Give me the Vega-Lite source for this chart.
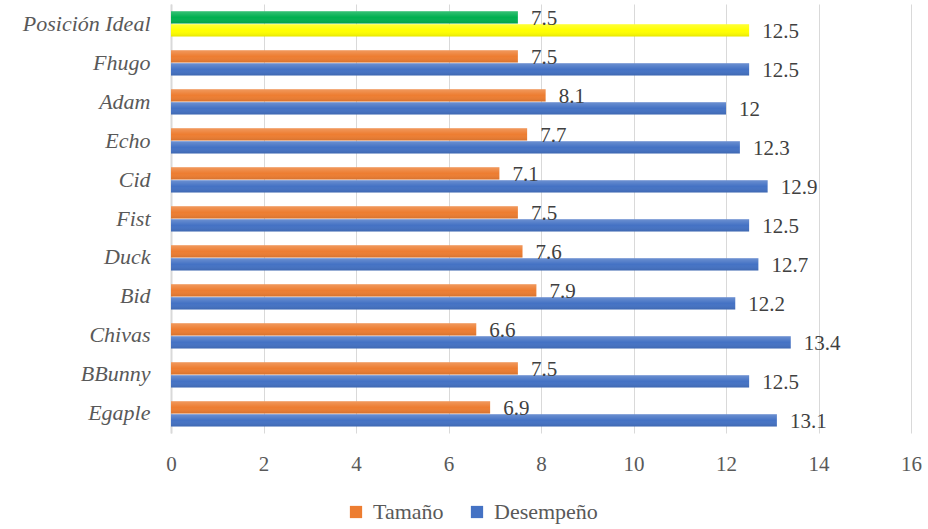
{
  "$schema": "https://vega.github.io/schema/vega-lite/v6.json",
  "width": 740,
  "height": 429,
  "autosize": {"type": "none"},
  "padding": {"left": 171, "top": 4, "right": 17, "bottom": 96},
  "background": "white",
  "config": {
    "view": {"stroke": null},
    "font": "'Liberation Serif', 'Times New Roman', serif"
  },
  "data": {
    "values": [
      {"nombre": "Posición Ideal", "serie": "Ideal Tamaño", "pos": "a", "valor": 7.5},
      {"nombre": "Posición Ideal", "serie": "Ideal Desempeño", "pos": "b", "valor": 12.5},
      {"nombre": "Fhugo", "serie": "Tamaño", "pos": "a", "valor": 7.5},
      {"nombre": "Fhugo", "serie": "Desempeño", "pos": "b", "valor": 12.5},
      {"nombre": "Adam", "serie": "Tamaño", "pos": "a", "valor": 8.1},
      {"nombre": "Adam", "serie": "Desempeño", "pos": "b", "valor": 12},
      {"nombre": "Echo", "serie": "Tamaño", "pos": "a", "valor": 7.7},
      {"nombre": "Echo", "serie": "Desempeño", "pos": "b", "valor": 12.3},
      {"nombre": "Cid", "serie": "Tamaño", "pos": "a", "valor": 7.1},
      {"nombre": "Cid", "serie": "Desempeño", "pos": "b", "valor": 12.9},
      {"nombre": "Fist", "serie": "Tamaño", "pos": "a", "valor": 7.5},
      {"nombre": "Fist", "serie": "Desempeño", "pos": "b", "valor": 12.5},
      {"nombre": "Duck", "serie": "Tamaño", "pos": "a", "valor": 7.6},
      {"nombre": "Duck", "serie": "Desempeño", "pos": "b", "valor": 12.7},
      {"nombre": "Bid", "serie": "Tamaño", "pos": "a", "valor": 7.9},
      {"nombre": "Bid", "serie": "Desempeño", "pos": "b", "valor": 12.2},
      {"nombre": "Chivas", "serie": "Tamaño", "pos": "a", "valor": 6.6},
      {"nombre": "Chivas", "serie": "Desempeño", "pos": "b", "valor": 13.4},
      {"nombre": "BBunny", "serie": "Tamaño", "pos": "a", "valor": 7.5},
      {"nombre": "BBunny", "serie": "Desempeño", "pos": "b", "valor": 12.5},
      {"nombre": "Egaple", "serie": "Tamaño", "pos": "a", "valor": 6.9},
      {"nombre": "Egaple", "serie": "Desempeño", "pos": "b", "valor": 13.1}
    ]
  },
  "encoding": {
    "y": {
      "field": "nombre",
      "type": "nominal",
      "sort": null,
      "title": null,
      "scale": {"paddingInner": 0.333, "paddingOuter": 0.1667},
      "axis": {
        "ticks": false,
        "domain": true,
        "domainColor": "#D9D9D9",
        "domainWidth": 2,
        "labelFont": "'Liberation Serif', 'Times New Roman', serif",
        "labelFontStyle": "italic",
        "labelFontSize": 22,
        "labelColor": "#595959",
        "labelPadding": 21
      }
    },
    "yOffset": {"field": "pos", "type": "nominal", "sort": ["a", "b"], "scale": {"paddingInner": 0, "paddingOuter": 0}},
    "x": {
      "field": "valor",
      "type": "quantitative",
      "title": null,
      "scale": {"domain": [0, 16], "nice": false},
      "axis": {
        "values": [0, 2, 4, 6, 8, 10, 12, 14, 16],
        "domain": false,
        "ticks": false,
        "grid": true,
        "gridColor": "#D9D9D9",
        "gridWidth": 1,
        "labelFlush": false,
        "labelFont": "'Liberation Serif', 'Times New Roman', serif",
        "labelFontSize": 21,
        "labelColor": "#595959",
        "labelPadding": 20
      }
    }
  },
  "layer": [
    {
      "mark": {"type": "bar", "height": {"band": 0.95}},
      "encoding": {
        "color": {
          "field": "serie",
          "type": "nominal",
          "scale": {
            "domain": ["Tamaño", "Desempeño", "Ideal Tamaño", "Ideal Desempeño"],
            "range": ["#ED7D31", "#4472C4", "#00B050", "#FFFF00"]
          },
          "legend": {
            "values": ["Tamaño", "Desempeño"],
            "title": null,
            "orient": "none",
            "direction": "horizontal",
            "legendX": 174,
            "legendY": 497,
            "symbolType": "square",
            "symbolSize": 150,
            "symbolStrokeWidth": 0,
            "labelFont": "'Liberation Serif', 'Times New Roman', serif",
            "labelFontSize": 22,
            "labelColor": "#595959",
            "labelOffset": 6,
            "columnPadding": 22
          }
        }
      }
    },
    {
      "mark": {
        "type": "bar",
        "height": {"band": 0.95},
        "fill": {
          "gradient": "linear",
          "x1": 0, "y1": 0, "x2": 0, "y2": 1,
          "stops": [
            {"offset": 0, "color": "rgba(255,255,255,0.22)"},
            {"offset": 0.5, "color": "rgba(255,255,255,0)"},
            {"offset": 1, "color": "rgba(0,0,0,0.1)"}
          ]
        }
      },
      "encoding": {}
    },
    {
      "mark": {
        "type": "text",
        "align": "left",
        "baseline": "middle",
        "dx": 13,
        "dy": 2,
        "font": "'Liberation Serif', 'Times New Roman', serif",
        "fontSize": 21,
        "color": "#404040"
      },
      "encoding": {
        "text": {"field": "valor", "type": "quantitative", "format": ".1~f"}
      }
    }
  ]
}
